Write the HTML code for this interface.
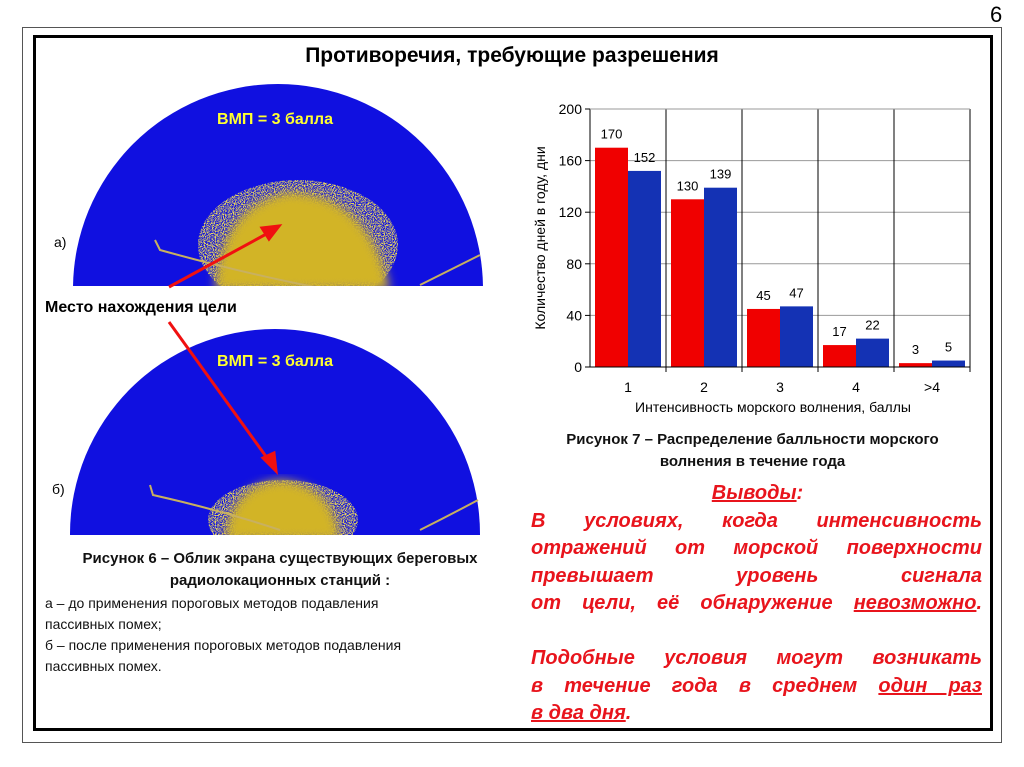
<!DOCTYPE html>
<html><head><meta charset="utf-8">
<style>
body{margin:0;width:1024px;height:767px;background:#fff;position:relative;overflow:hidden;font-family:"Liberation Sans",sans-serif}
.abs{position:absolute}
.red{color:#e8141c;font-weight:bold;font-style:italic;font-size:20px;left:531px;width:451px;text-align:justify;text-align-last:justify;white-space:nowrap;line-height:24px}
.u{text-decoration:underline}
.cap{font-size:15px;font-weight:bold;color:#111;text-align:center}
.norm{font-size:14px;color:#111}
</style></head><body>
<div class="abs" style="left:22px;top:27px;width:978px;height:714px;border:1px solid #555"></div>
<div class="abs" style="left:33px;top:35px;width:954px;height:690px;border:3px solid #000"></div>
<div class="abs" style="left:990px;top:2px;font-size:22px">6</div>
<div class="abs" style="left:0;width:1024px;top:44px;text-align:center;font-size:21px;font-weight:bold">Противоречия, требующие разрешения</div>

<svg class="abs" style="left:0;top:0" width="1024" height="767">
<defs>
<filter id="n" x="-20%" y="-20%" width="140%" height="140%"><feTurbulence type="fractalNoise" baseFrequency="0.9" numOctaves="2" result="t"/><feColorMatrix in="t" type="matrix" values="0 0 0 0 0.85  0 0 0 0 0.72  0 0 0 0 0.1  0 0 0 6 -2.6" result="c"/><feComposite in="c" in2="SourceGraphic" operator="in"/></filter>
<filter id="b"><feGaussianBlur stdDeviation="5"/></filter>
<clipPath id="ca"><rect x="60" y="80" width="440" height="206"/></clipPath>
<clipPath id="cb"><rect x="60" y="325" width="440" height="210"/></clipPath>
</defs>
<g clip-path="url(#ca)">
<circle cx="278" cy="289" r="205" fill="#1010e0"/>
<ellipse cx="298" cy="245" rx="100" ry="65" fill="#d8b820" filter="url(#n)"/>
<path d="M215 290 Q220 205 290 192 Q370 195 390 290 Z" fill="#d2b428" filter="url(#b)"/>
<path d="M155 240 L160 250 Q250 275 330 290" stroke="#c8b060" stroke-width="2" fill="none"/>
<path d="M420 285 Q450 270 480 255" stroke="#c8b060" stroke-width="2" fill="none"/>
</g>
<g clip-path="url(#cb)">
<circle cx="275" cy="534" r="205" fill="#1010e0"/>
<ellipse cx="283" cy="520" rx="75" ry="40" fill="#d8b820" filter="url(#n)"/>
<path d="M225 540 Q230 485 280 480 Q335 485 340 540 Z" fill="#d2b428" filter="url(#b)"/>
<path d="M150 485 L153 495 Q220 510 280 530" stroke="#c8b060" stroke-width="2" fill="none"/>
<path d="M420 530 Q450 515 478 500" stroke="#c8b060" stroke-width="2" fill="none"/>
</g>
<text x="275" y="124" font-family="Liberation Sans" font-weight="bold" font-size="16" fill="#ffff30" text-anchor="middle">ВМП = 3 балла</text>
<text x="275" y="366" font-family="Liberation Sans" font-weight="bold" font-size="16" fill="#ffff30" text-anchor="middle">ВМП = 3 балла</text>
<text x="54" y="247" font-family="Liberation Sans" font-size="14">а)</text>
<text x="52" y="494" font-family="Liberation Sans" font-size="14">б)</text>
<text x="45" y="312" font-family="Liberation Sans" font-weight="bold" font-size="16">Место нахождения цели</text>
<g stroke="#f01010" stroke-width="3" fill="#f01010">
<line x1="169" y1="287" x2="270" y2="232"/><polygon points="279,226 262,228 269,239"/>
<line x1="169" y1="322" x2="270" y2="462"/><polygon points="276,471 263,458 274,453"/>
</g>
</svg>

<div class="abs cap" style="left:45px;width:470px;top:548px;line-height:22px">Рисунок 6 – Облик экрана существующих береговых<br>радиолокационных станций :</div>
<div class="abs norm" style="left:45px;top:593px;line-height:21px">а – до применения пороговых методов подавления<br>пассивных помех;<br>б – после применения пороговых методов подавления<br>пассивных помех.</div>

<svg class="abs" style="left:0;top:0" width="1024" height="480" id="chart"></svg>

<div class="abs cap" style="left:520px;width:465px;top:429px;line-height:22px">Рисунок 7 – Распределение балльности морского<br>волнения в течение года</div>

<div class="abs" style="left:520px;width:475px;top:482px;text-align:center;color:#e8141c;font-weight:bold;font-style:italic;font-size:20px"><span class="u">Выводы</span>:</div>
<div class="abs red" style="top:509px">В условиях, когда интенсивность</div>
<div class="abs red" style="top:536px">отражений от морской поверхности</div>
<div class="abs red" style="top:564px">превышает уровень сигнала</div>
<div class="abs red" style="top:591px">от цели, её обнаружение <span class="u">невозможно</span>.</div>
<div class="abs red" style="top:646px">Подобные условия могут возникать</div>
<div class="abs red" style="top:674px">в течение года в среднем <span class="u">один раз</span></div>
<div class="abs red" style="top:701px;text-align-last:left"><span class="u">в два дня</span>.</div>

<script>
const categories=["1","2","3","4",">4"];
const series2008=[170,130,45,17,3];
const series2009=[152,139,47,22,5];
const yTicks=[0,40,80,120,160,200];
const NS="http://www.w3.org/2000/svg";
const svgEl=document.getElementById('chart');
const x0=590,x1=970,y0=367,y1=109,yMax=200;
const bw=(x1-x0)/categories.length;
function yS(v){return y0-(v/yMax)*(y0-y1);}
function xc(i){return x0+i*bw;}
function mk(t,a,txt){const e=document.createElementNS(NS,t);for(const k in a)e.setAttribute(k,a[k]);if(txt!==undefined)e.textContent=txt;svgEl.appendChild(e);return e;}
yTicks.forEach(v=>{
 if(v>0){const g=mk('line',{x1:x0,x2:x1,y1:yS(v),y2:yS(v),stroke:'#999','stroke-width':1});
 
 }
 const tk=mk('line',{x1:x0-5,x2:x0,y1:yS(v),y2:yS(v),stroke:'#000'});
 
 
 const t=mk('text',{x:x0-8,y:yS(v)+5,'font-size':14,'text-anchor':'end','font-family':'Liberation Sans'},v);
 
 
});
categories.forEach((c,i)=>{
 const vl=mk('line',{x1:xc(i+1),x2:xc(i+1),y1:y1,y2:y0+5,stroke:'#000'});
 
 
 const w=(bw-10)/2;
 const r=mk('rect',{x:xc(i)+5,y:yS(series2008[i]),width:w,height:y0-yS(series2008[i]),fill:'#f00000'});
 
 
 const b=mk('rect',{x:xc(i)+5+w,y:yS(series2009[i]),width:w,height:y0-yS(series2009[i]),fill:'#1432b4'});
 
 
 const l1=mk('text',{x:xc(i)+5+w/2,y:yS(series2008[i])-9,'font-size':13,'text-anchor':'middle','font-family':'Liberation Sans'},series2008[i]);
 
 
 const l2=mk('text',{x:xc(i)+5+1.5*w,y:yS(series2009[i])-9,'font-size':13,'text-anchor':'middle','font-family':'Liberation Sans'},series2009[i]);
 
 
 const xl=mk('text',{x:xc(i)+bw/2,y:392,'font-size':14,'text-anchor':'middle','font-family':'Liberation Sans'},c);
 
 
});
const axesPath=mk('path',{d:`M${x0} ${y1} V${y0} H${x1} V${y1}`,stroke:'#000',fill:'none'});


const topBorder=mk('line',{x1:x0,x2:x1,y1:y1,y2:y1,stroke:'#999'});


const xTitle=mk('text',{x:773,y:412,'font-size':14,'text-anchor':'middle','font-family':'Liberation Sans'},'Интенсивность морского волнения, баллы');


const yTitle=mk('text',{x:0,y:0,'font-size':14,'text-anchor':'middle','font-family':'Liberation Sans',transform:'translate(545,238) rotate(-90)'},'Количество дней в году, дни');


</script>
</body></html>
